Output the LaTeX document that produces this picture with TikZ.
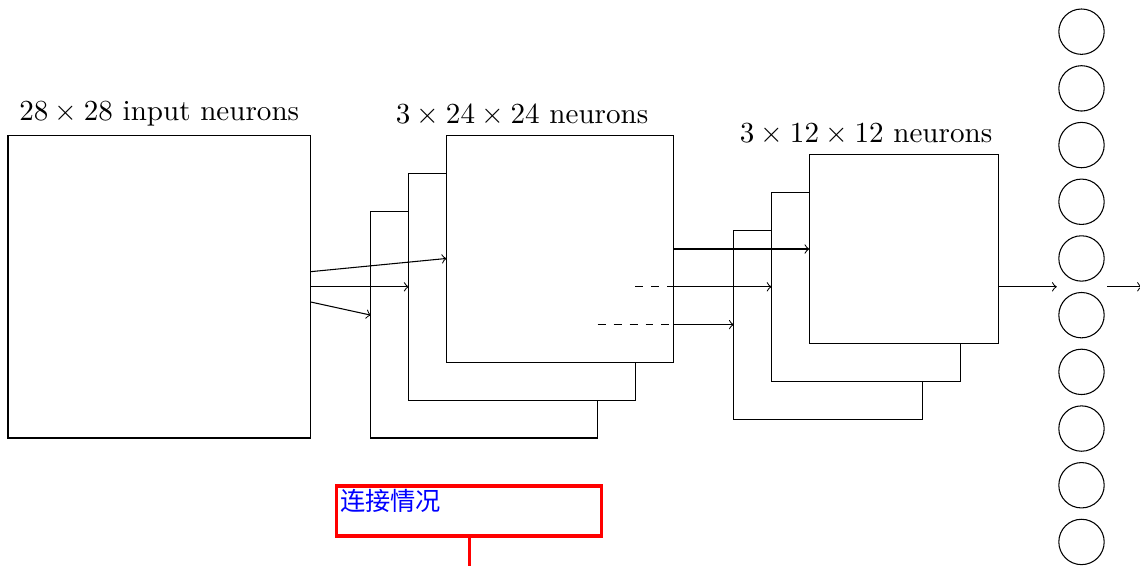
\documentclass[tikz,border=0pt]{standalone}
\usepackage{fontspec}
\newfontfamily\cjk{Noto Sans CJK SC}
\usetikzlibrary{calc}
\begin{document}
\begin{tikzpicture}[
  sq/.style={draw,fill=white,rectangle,inner sep=0pt,outer sep=0pt,minimum size=#1},
  neuron/.style={draw,circle,inner sep=0pt,minimum size=0.6cm},
  conn/.style={->},
  hidden/.style={dashed},
  lbl/.style={above,inner sep=3.33pt,font=\fontsize{10.95pt}{13.6pt}\selectfont},
  note/.style={draw=red,line width=1.2pt,rectangle,minimum width=3.5cm,minimum height=0.66cm,inner sep=0pt,outer sep=0pt},
  notetext/.style={anchor=north west,inner sep=1pt,text=blue,font=\cjk\fontsize{9.5pt}{11pt}\selectfont},
]
\useasboundingbox (-0.106,-1.693) rectangle (14.974,5.794);

% input layer
\node[sq=4cm] (in) at (2,2) {};
\node[lbl] (inlbl) at (in.north) {$28\times 28$ input neurons};

% first hidden layer (3 feature maps)
\node[sq=3cm] (b2) at (6.3,1.5) {};
\node[sq=3cm] (b1) at (6.8,2) {};
\node[sq=3cm] (b0) at (7.3,2.5) {};
\node[lbl] (blbl) at (b1 |- b0.north) {$3\times 24\times 24$ neurons};

% pooling layer (3 maps)
\node[sq=2.5cm] (c2) at (10.85,1.5) {};
\node[sq=2.5cm] (c1) at (11.35,2) {};
\node[sq=2.5cm] (c0) at (11.85,2.5) {};
\node[lbl] (clbl) at (c1 |- c0.north) {$3\times 12\times 12$ neurons};

% output neurons
\foreach \i in {1,...,10}{
  \node[neuron] (n\i) at (14.2,{5.375-0.75*(\i-1)}) {};
}

% connections input -> first layer
\draw[conn] ($(in.east)+(0,0.2)$) -- ($(b0.west)+(0,-0.125)$);
\draw[conn] (in.east) -- (b1.west);
\draw[conn] ($(in.east)+(0,-0.2)$) -- ($(b2.west)+(0,0.125)$);

% first layer -> pooling layer
\draw[conn] (b0.east) -- (c0.west);
\draw[hidden] (b1.east) -- (b0.east |- b1.east);
\draw[conn] (b0.east |- b1.east) -- (c1.west);
\draw[hidden] (b2.east) -- (b0.east |- b2.east);
\draw[conn] (b0.east |- b2.east) -- (c2.west);

% pooling -> output
\coordinate (nin) at ($(n5.west)!0.5!(n6.west)+(-0.02,0)$);
\coordinate (outs) at (14.54,2);
\coordinate (oute) at (15.0,2);
\draw[conn] (c0.east |- nin) -- (nin);
\draw[conn] (outs) -- (oute);

% annotation
\node[note] (nb) at (6.1,-0.966) {};
\node[notetext] (nt) at (nb.north west) {连接情况};
\coordinate (nend) at ($(nb.south)+(0,-0.8)$);
\draw[red,line width=1.2pt] (nb.south) -- (nend);
\end{tikzpicture}
\end{document}
